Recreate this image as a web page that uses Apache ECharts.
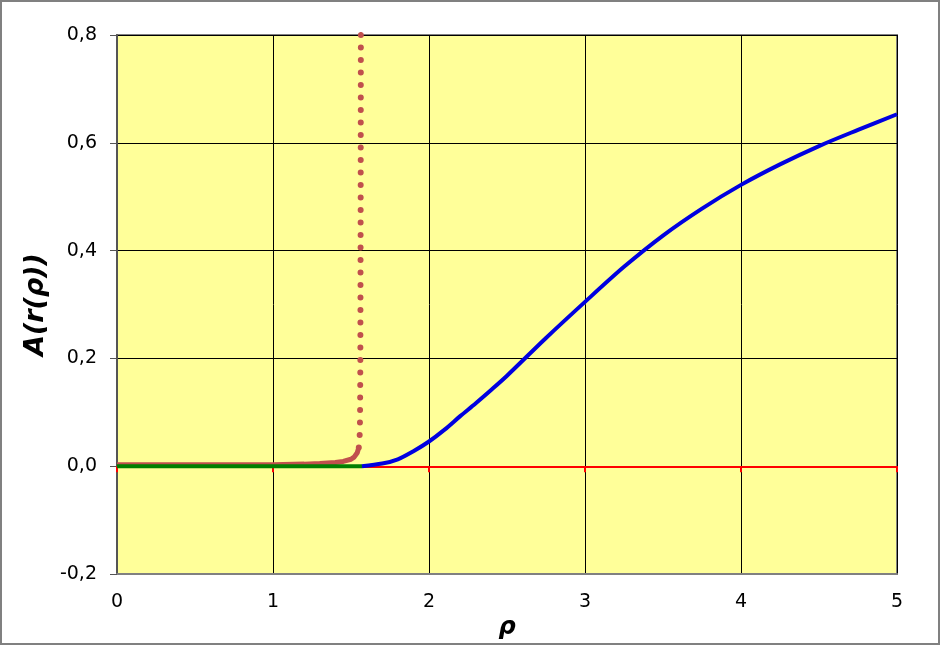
<!DOCTYPE html>
<html>
<head>
<meta charset="utf-8">
<script src="https://cdn.jsdelivr.net/npm/echarts@6/dist/echarts.min.js"></script>
<style>
  body { margin: 0; background: #fff; }
  #chart { width: 940px; height: 645px; }
</style>
</head>
<body>
<div id="chart"></div>
<script>
// x ticks 0..5, y ticks -0.2..0.8
var xTicks = [0, 1, 2, 3, 4, 5]
var yTicks = [-0.2, 0, 0.2, 0.4, 0.6, 0.8]

// green: zero line up to pi/2
var greenX = [0, 1.5708]
var greenY = [0, 0]

// blue curve
var blueX = [1.57, 1.7, 1.8, 1.9, 2.0, 2.1, 2.2, 2.3, 2.4, 2.5, 2.75, 3.0, 3.25, 3.5, 3.75, 4.0, 4.25, 4.5, 4.75, 5.0]
var blueY = [0, 0.005, 0.013, 0.028, 0.046, 0.068, 0.093, 0.117, 0.142, 0.168, 0.238, 0.305, 0.370, 0.428, 0.478, 0.522, 0.560, 0.594, 0.624, 0.653]

// red (brown) curve, flat part then blowing up near pi/2
var redX = [0, 0.5, 1.0, 1.2, 1.3, 1.4, 1.45, 1.5, 1.52, 1.54, 1.55]
var redY = [0.003, 0.003, 0.003, 0.004, 0.005, 0.007, 0.009, 0.013, 0.017, 0.025, 0.035]
var redDotX = [1.55, 1.555, 1.558, 1.56, 1.562, 1.564]
var redDotY = [0.035, 0.05, 0.09, 0.2, 0.5, 1.0]

function pairs(xs, ys) {
  return xs.map(function (x, i) { return [x, ys[i]] })
}

var font = 'DejaVu Sans'
var myChart = echarts.init(document.getElementById('chart'))

var option = {
  animation: false,
  textStyle: { fontFamily: font },
  graphic: [{
    type: 'rect',
    shape: { x: 1, y: 1, width: 938, height: 643 },
    style: { fill: 'none', stroke: '#808080', lineWidth: 2 },
    silent: true
  }],
  grid: {
    left: 117, right: 43, top: 35, bottom: 68,
    show: true,
    backgroundColor: '#FFFF99',
    borderColor: '#808080',
    borderWidth: 2
  },
  xAxis: [{
    type: 'value',
    position: 'bottom',
    min: xTicks[0], max: xTicks[xTicks.length - 1], interval: 1,
    axisLine: { onZero: false, lineStyle: { color: '#808080', width: 2 } },
    axisTick: { show: false },
    axisLabel: { color: '#000', fontSize: 19, margin: 18, fontFamily: font },
    splitLine: { lineStyle: { color: '#000', width: 1 } },
    name: 'ρ',
    nameLocation: 'middle',
    nameGap: 34,
    nameTextStyle: { fontSize: 24, fontWeight: 'bold', fontStyle: 'italic', color: '#000', fontFamily: font }
  }, {
    // red zero axis with ticks
    type: 'value',
    position: 'top',
    min: xTicks[0], max: xTicks[xTicks.length - 1], interval: 1,
    axisLine: { onZero: true, onZeroAxisIndex: 0, lineStyle: { color: '#FF0000', width: 2 } },
    axisTick: { show: true, inside: true, length: 6, lineStyle: { color: '#FF0000', width: 2 } },
    axisLabel: { show: false },
    splitLine: { show: false }
  }],
  yAxis: {
    type: 'value',
    min: yTicks[0], max: yTicks[yTicks.length - 1], interval: 0.2,
    axisLine: { show: true, onZero: false, lineStyle: { color: '#555', width: 2 } },
    axisTick: { show: true, length: 7, lineStyle: { color: '#555', width: 1 } },
    axisLabel: {
      color: '#000', fontSize: 19, margin: 20, fontFamily: font,
      formatter: function (v) { return v.toFixed(1).replace('.', ',') }
    },
    splitLine: { lineStyle: { color: '#000', width: 1 } },
    name: 'A(r(ρ))',
    nameLocation: 'middle',
    nameGap: 67,
    nameRotate: 90,
    nameTextStyle: { fontSize: 27, fontWeight: 'bold', fontStyle: 'italic', color: '#000', fontFamily: font }
  },
  series: [
    {
      type: 'line', data: pairs(redX, redY), showSymbol: false,
      lineStyle: { color: '#C0504D', width: 5 }
    },
    {
      type: 'line', data: pairs(redDotX, redDotY), showSymbol: false,
      lineStyle: { color: '#C0504D', width: 6, cap: 'round', type: [0, 12.5] }
    },
    {
      type: 'line', data: pairs(greenX, greenY), showSymbol: false,
      lineStyle: { color: '#008000', width: 4 }
    },
    {
      type: 'line', data: pairs(blueX, blueY), showSymbol: false, smooth: 0.3,
      lineStyle: { color: '#0000E0', width: 4 }
    }
  ]
}
myChart.setOption(option)
</script>
</body>
</html>
